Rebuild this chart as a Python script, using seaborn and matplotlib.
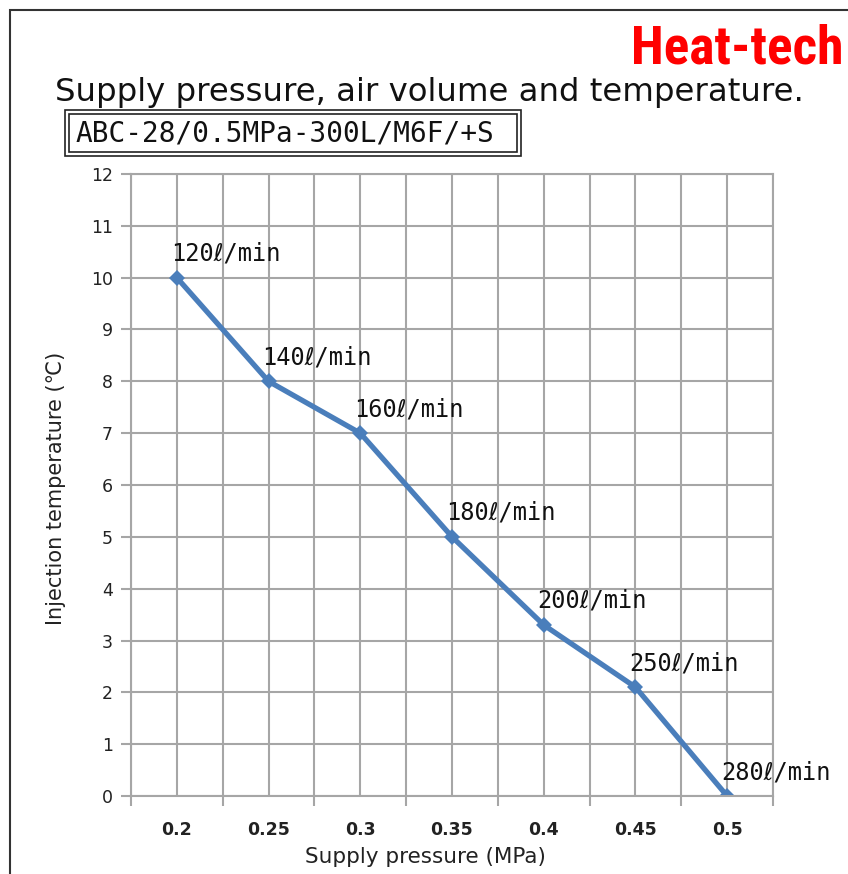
import matplotlib
matplotlib.use("Agg")
import matplotlib.pyplot as plt
import seaborn as sns
import pandas as pd
from matplotlib.patches import Rectangle
from matplotlib.ticker import MultipleLocator, FixedLocator

pressure = [0.2, 0.25, 0.3, 0.35, 0.4, 0.45, 0.5]
temperature = [10, 8, 7, 5, 3.3, 2.1, 0]
flow_labels = ["120ℓ/min", "140ℓ/min", "160ℓ/min", "180ℓ/min",
               "200ℓ/min", "250ℓ/min", "280ℓ/min"]
x_tick_labels = ["0.2", "0.25", "0.3", "0.35", "0.4", "0.45", "0.5"]

df = pd.DataFrame({"pressure": pressure, "temperature": temperature})

sns.set_theme(style="white")
plt.rcParams["font.family"] = ["DejaVu Sans"]

MONO = ["DejaVu Sans Mono", "DejaVu Sans"]

W, H = 848, 874
fig = plt.figure(figsize=(W / 100, H / 100), dpi=100)
fig.patch.set_facecolor("white")

# outer frame
fig.add_artist(Rectangle((10 / W, -0.02), 1.05, 1 - 10 / H + 0.02,
                         transform=fig.transFigure, fill=False,
                         edgecolor="#333333", linewidth=1.5))

ax = fig.add_axes([131 / W, (H - 796) / H, (773 - 131) / W, (796 - 174) / H])
sns.lineplot(data=df, x="pressure", y="temperature", ax=ax, color="#4a7ebb",
             linewidth=3.8, marker="D", markersize=8, markeredgewidth=0)

ax.set_xlim(0.175, 0.525)
ax.set_ylim(0, 12)
ax.yaxis.set_major_locator(MultipleLocator(1))
ax.xaxis.set_major_locator(FixedLocator(pressure))
ax.set_xticklabels(x_tick_labels)
ax.xaxis.set_minor_locator(FixedLocator([0.175 + 0.05 * i for i in range(8)]))

for i in range(15):
    ax.axvline(0.175 + 0.025 * i, color="#a6a6a6", linewidth=1.5, zorder=0)
for v in range(13):
    ax.axhline(v, color="#a6a6a6", linewidth=1.5, zorder=0)

for s in ax.spines.values():
    s.set_color("#a6a6a6")
    s.set_linewidth(1.5)

ax.tick_params(axis="x", which="major", length=0, pad=18, labelsize=12.5,
               labelcolor="#222222")
ax.tick_params(axis="x", which="minor", direction="out", length=7, width=1.5,
               color="#a6a6a6", bottom=True)
ax.tick_params(axis="y", which="major", direction="out", length=7, width=1.5,
               color="#a6a6a6", left=True, labelsize=12.5, labelcolor="#222222",
               pad=6)
for lab in ax.get_xticklabels():
    lab.set_fontweight("bold")

ax.set_xlabel("Supply pressure (MPa)", fontsize=15.5, color="#222222")
ax.xaxis.set_label_coords((425 - 131) / (773 - 131), -(847 - 796) / (796 - 174))
ax.set_ylabel("Injection temperature (℃)", fontsize=15, color="#222222")
ax.yaxis.set_label_coords(-(131 - 66) / (773 - 131), (796 - 488) / (796 - 174))

for x, y, t in zip(pressure, temperature, flow_labels):
    ax.annotate(t, (x, y), xytext=(-6, 12), textcoords="offset pixels",
                fontsize=17, family=MONO, color="#111111", ha="left",
                va="bottom", annotation_clip=False)

# titles
fig.text(843 / W, 1 - 49 / H, "Heat-tech", color="#ff0000", fontsize=38.5,
         fontweight="bold", fontstretch="condensed",
         family=["Liberation Sans Narrow", "Roboto Condensed", "Liberation Sans"],
         ha="right", va="center")
fig.text(55 / W, 1 - 93 / H, "Supply pressure, air volume and temperature.",
         fontsize=23.3, color="#111111", ha="left", va="center")

# double-bordered box
fig.add_artist(Rectangle((65 / W, 1 - 156 / H), (521 - 65) / W, (156 - 110) / H,
                         transform=fig.transFigure, fill=False,
                         edgecolor="#222222", linewidth=1.2))
fig.add_artist(Rectangle((69 / W, 1 - 152 / H), (517 - 69) / W, (152 - 114) / H,
                         transform=fig.transFigure, fill=False,
                         edgecolor="#222222", linewidth=1.2))
fig.text(76 / W, 1 - 133 / H, "ABC-28/0.5MPa-300L/M6F/+S", fontsize=20,
         family=MONO, color="#111111", ha="left", va="center")

fig.savefig("out.png", dpi=100)
